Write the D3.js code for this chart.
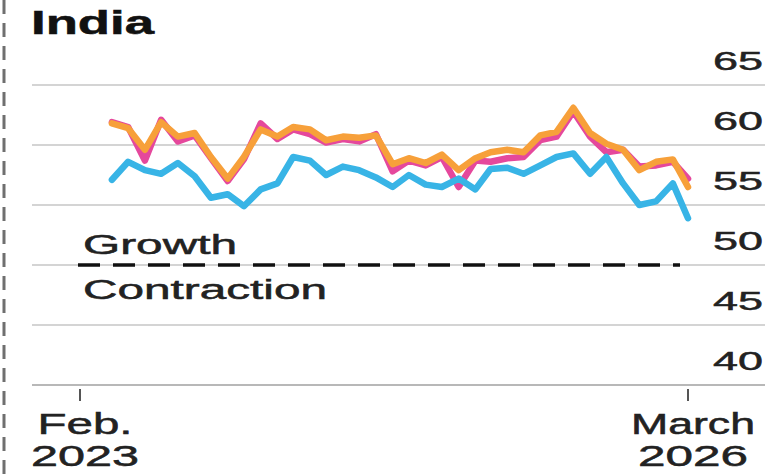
<!DOCTYPE html>
<html>
<head>
<meta charset="utf-8">
<script src="https://cdn.jsdelivr.net/npm/d3@7/dist/d3.min.js"></script>
<style>
  html, body { margin: 0; padding: 0; background: #fff; }
  svg { display: block; }
  text { font-family: "Liberation Sans", Arial, Helvetica, sans-serif; fill: #222; stroke: #222; stroke-width: 0.5px; }
</style>
</head>
<body>
<svg id="chart" width="782" height="476"></svg>
<script>
// Monthly PMI readings, April 2023 to March 2026
const startMonth = new Date(2023, 3, 1);
const manufacturing = [57.1, 58.6, 57.9, 57.6, 58.5, 57.4, 55.6, 55.9, 54.9, 56.3, 56.8, 59.0,
                       58.7, 57.5, 58.2, 57.9, 57.3, 56.5, 57.5, 56.7, 56.5, 57.2, 56.3, 58.0,
                       58.1, 57.6, 58.3, 59.0, 59.3, 57.6, 59.0, 56.8, 55.0, 55.3, 56.8, 53.9];
const composite = [61.8, 61.4, 59.6, 61.9, 60.7, 61.0, 59.0, 57.2, 59.0, 61.3, 60.7, 61.5,
                   61.3, 60.4, 60.7, 60.6, 60.8, 58.4, 58.9, 58.5, 59.2, 57.9, 58.9, 59.4,
                   59.6, 59.4, 60.8, 61.1, 63.1, 61.0, 60.1, 59.6, 57.9, 58.6, 58.8, 56.5];
const services = [61.9, 61.5, 58.7, 62.1, 60.3, 60.8, 58.9, 57.0, 58.8, 61.8, 60.5, 61.3,
                  60.9, 60.2, 60.5, 60.3, 60.9, 57.8, 58.7, 58.3, 59.0, 56.5, 58.7, 58.6,
                  58.9, 59.0, 60.4, 60.7, 62.8, 60.7, 59.4, 59.6, 58.2, 58.3, 58.6, 57.2];
const yTicks = [40, 45, 50, 55, 60, 65];
const xTickDates = [new Date(2023, 1, 1), new Date(2026, 2, 1)];
const xTickLabels = [["Feb.", "2023"], ["March", "2026"]];

const svg = d3.select("#chart");

const x = d3.scaleTime().domain(xTickDates).range([80, 688]);
const y = d3.scaleLinear().domain([40, 65]).range([385, 85]);

const monthDate = i => d3.timeMonth.offset(startMonth, i);

// dashed panel edge on the left
svg.append("line")
  .attr("x1", 4).attr("x2", 4).attr("y1", 0).attr("y2", 476)
  .attr("stroke", "#6f6f6f").attr("stroke-width", 3)
  .attr("stroke-dasharray", "14,9");

// title
svg.append("text")
  .attr("x", 31).attr("y", 34)
  .attr("font-size", 33).attr("font-weight", "bold")
  .attr("textLength", 123).attr("lengthAdjust", "spacingAndGlyphs")
  .style("fill", "#111").style("stroke", "#111")
  .text("India");

// horizontal gridlines with labels above them on the right
const grid = svg.append("g");
grid.selectAll("line").data(yTicks).join("line")
  .attr("x1", 32).attr("x2", 765)
  .attr("y1", d => y(d)).attr("y2", d => y(d))
  .attr("stroke", d => d === 40 ? "#b8b8b8" : "#d4d4d4")
  .attr("stroke-width", 2);
grid.selectAll("text").data(yTicks).join("text")
  .attr("x", 763).attr("y", d => y(d) - 15)
  .attr("text-anchor", "end")
  .attr("font-size", 26)
  .attr("textLength", 50).attr("lengthAdjust", "spacingAndGlyphs")
  .text(d => d);

// growth / contraction threshold
svg.append("line")
  .attr("x1", 78).attr("x2", 680)
  .attr("y1", y(50)).attr("y2", y(50))
  .attr("stroke", "#111").attr("stroke-width", 3.5)
  .attr("stroke-dasharray", "22,13");
svg.append("text")
  .attr("x", 83).attr("y", y(50) - 11)
  .attr("font-size", 27)
  .attr("textLength", 154).attr("lengthAdjust", "spacingAndGlyphs")
  .text("Growth");
svg.append("text")
  .attr("x", 83).attr("y", y(50) + 34)
  .attr("font-size", 27)
  .attr("textLength", 244).attr("lengthAdjust", "spacingAndGlyphs")
  .text("Contraction");

// x axis ticks and two-line labels
const xt = svg.append("g").selectAll("g").data(xTickDates).join("g");
xt.append("line")
  .attr("x1", d => x(d)).attr("x2", d => x(d))
  .attr("y1", 389).attr("y2", 401)
  .attr("stroke", "#555").attr("stroke-width", 2);
const lineWidths = [[95, 108], [124, 110]];
xt.each(function (d, i) {
  const g = d3.select(this);
  xTickLabels[i].forEach((t, j) => {
    g.append("text")
      .attr("x", x(d) + 5).attr("y", 434 + j * 32)
      .attr("text-anchor", "middle")
      .attr("font-size", 29)
      .attr("textLength", lineWidths[i][j]).attr("lengthAdjust", "spacingAndGlyphs")
      .text(t);
  });
});

// PMI lines
const line = d3.line()
  .x((d, i) => x(monthDate(i)))
  .y(d => y(d));

const series = [
  { values: services, color: "#e5489c" },
  { values: composite, color: "#f7a03a" },
  { values: manufacturing, color: "#38b4e6" }
];
svg.append("g").selectAll("path").data(series).join("path")
  .attr("d", d => line(d.values))
  .attr("fill", "none")
  .attr("stroke", d => d.color)
  .attr("stroke-width", 6.5)
  .attr("stroke-linejoin", "round")
  .attr("stroke-linecap", "round");
</script>
</body>
</html>
